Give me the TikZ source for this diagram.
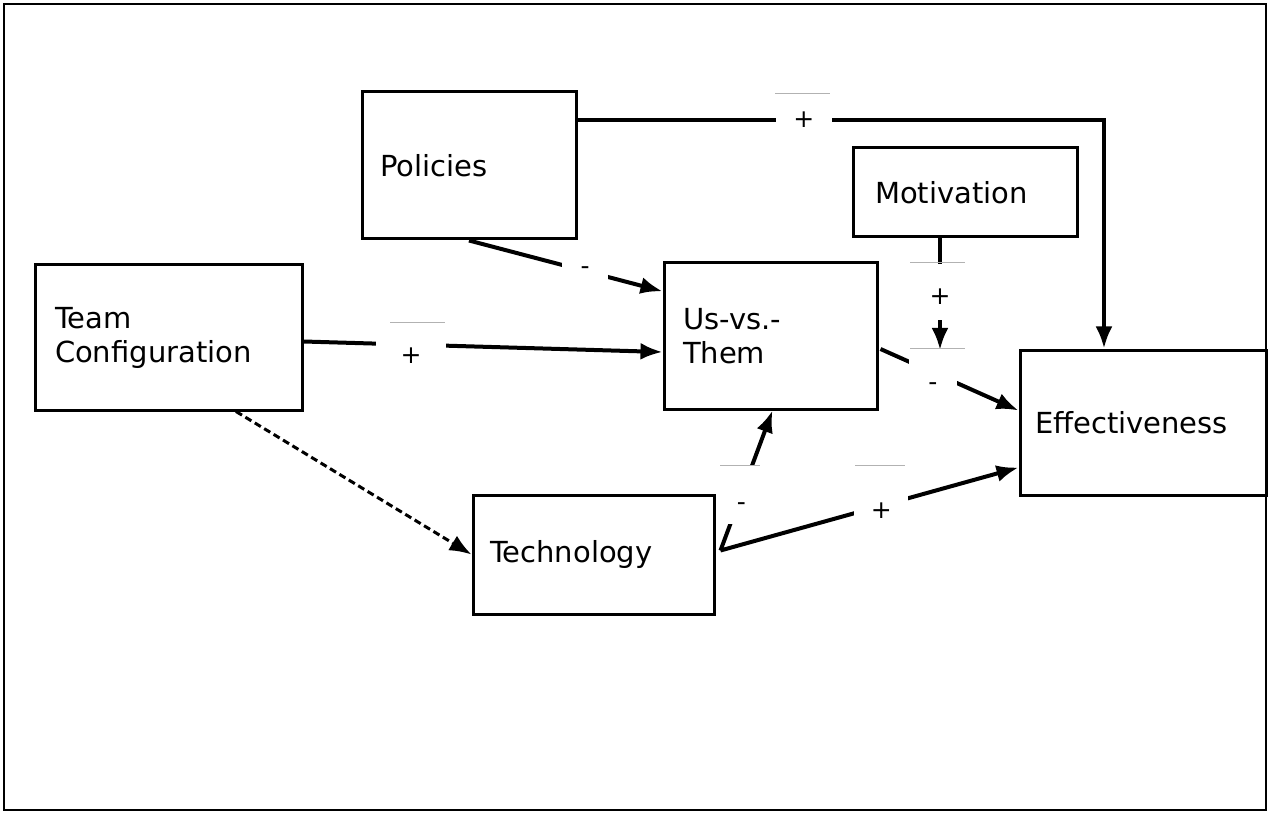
\documentclass[tikz,border=0pt]{standalone}
\usepackage{fontspec}
\setmainfont{DejaVu Sans}
\usetikzlibrary{arrows.meta,calc}
\newcommand{\lowerby}[2]{\raisebox{-#1}[0pt][0pt]{#2}}
\begin{document}
\begin{tikzpicture}[x=1pt,y=-1pt,
  box/.style={draw,line width=3pt,align=left,font=\fontsize{29}{34}\selectfont,inner ysep=0pt},
  conn/.style={line width=4pt},
  arr/.style={conn,-{Latex[length=22pt,width=17pt]}},
  lbl/.style={fill=white,font=\fontsize{25}{25}\selectfont,inner sep=0pt,minimum size=56pt},
  faint/.style={draw=gray!60,line width=0.8pt}]
\useasboundingbox (0,0) rectangle (1270,813);
\draw[line width=2pt] (4,4) rectangle (1266,810);

\node[box,text width=178pt,inner xsep=18pt,minimum height=147pt] (pol) at (469,165.5) {Policies};
\node[box,text width=180pt,inner xsep=22pt,minimum height=89pt] (mot) at (965,192.5) {Motivation};
\node[box,text width=227pt,inner xsep=20pt,minimum height=145pt] (tc) at (168.5,337.5) {Team\\Configuration};
\node[box,text width=175pt,inner xsep=19pt,minimum height=146pt] (uvt) at (770.5,336) {Us-vs.-\\Them};
\node[box,text width=216pt,inner xsep=15pt,minimum height=145pt] (eff) at (1143,422.5) {Effectiveness};
\node[box,text width=207pt,inner xsep=17pt,minimum height=119pt] (tech) at (593.5,554.5) {Technology};

\coordinate (c1) at (1104,120);
\coordinate (mod) at (940,350);

% Policies -> Effectiveness
\draw[arr] (pol.east |- c1) -- node[lbl,pos=0.43]{+} (c1) -- (c1 |- eff.north);
% Policies -> Us-vs.-Them
\draw[arr] (pol.south) -- node[lbl,pos=0.6,minimum size=46pt]{-} ($(uvt.north west)!0.2!(uvt.south west)$);
% Team Configuration -> Us-vs.-Them
\draw[arr] ($(tc.east)+(0,4)$) -- node[lbl,pos=0.3,minimum size=70pt]{\lowerby{19pt}{+}} ($(uvt.west)+(0,16)$);
% Motivation -> moderation point
\draw[arr] (mot.south -| mod) -- node[lbl,pos=0.48]{\lowerby{12pt}{+}} (mod);
% Us-vs.-Them -> Effectiveness
\draw[arr] ($(uvt.east)+(2,13)$) -- node[lbl,pos=0.38,minimum size=48pt]{\lowerby{18pt}{-}} ($(eff.west)+(0,-12)$);
% Technology -> Effectiveness
\draw[arr] ($(tech.east)+(5,-4)$) -- node[lbl,pos=0.54,minimum size=54pt]{\lowerby{13pt}{+}} ($(eff.west)+(0,45)$);
% Technology -> Us-vs.-Them
\draw[arr] ($(tech.east)+(5,-4)$) -- node[lbl,pos=0.4,minimum size=40pt,minimum height=58pt]{\lowerby{16pt}{-}} ($(uvt.south)+(2,0)$);
% Team Configuration -> Technology (dashed)
\draw[arr,line width=3pt,dash pattern=on 7pt off 4pt] ($(tc.south west)!0.75!(tc.south east)$) -- (tech.west);

% faint edges of the label boxes
\draw[faint] (775,93) -- (830,93);
\draw[faint] (390,322) -- (445,322);
\draw[faint] (910,262) -- (965,262);
\draw[faint] (910,348) -- (965,348);
\draw[faint] (720,465) -- (760,465);
\draw[faint] (855,465) -- (905,465);
\end{tikzpicture}
\end{document}
